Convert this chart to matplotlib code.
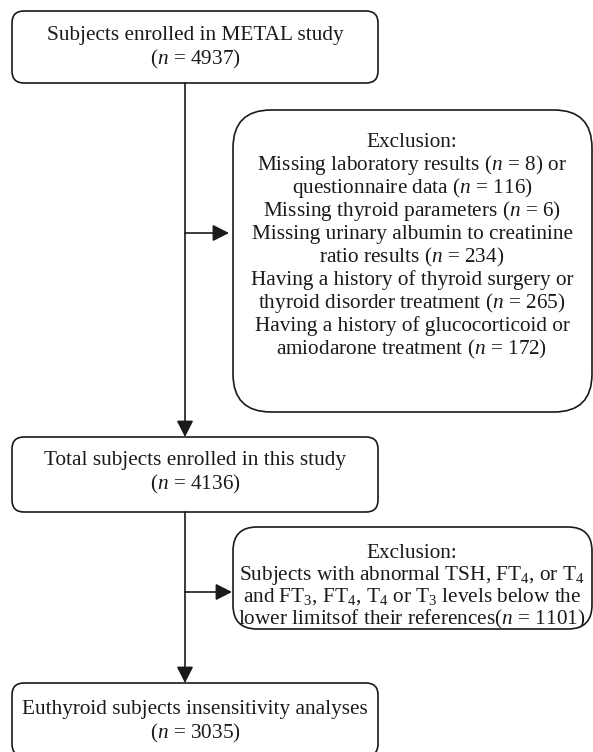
import matplotlib.pyplot as plt
from matplotlib.patches import FancyBboxPatch

plt.rcParams['font.family'] = ['Liberation Serif', 'DejaVu Serif']
plt.rcParams['mathtext.fontset'] = 'custom'
plt.rcParams['mathtext.rm'] = 'Liberation Serif'
plt.rcParams['mathtext.it'] = 'Liberation Serif:italic'

# main flow boxes (text) and counts
main_labels = ['Subjects enrolled in METAL study',
               'Total subjects enrolled in this study',
               'Euthyroid subjects insensitivity analyses']
main_counts = [4937, 4136, 3035]

# exclusion boxes
excl1_lines = ['Exclusion:',
               'Missing laboratory results ($n$ = 8) or',
               'questionnaire data ($n$ = 116)',
               'Missing thyroid parameters ($n$ = 6)',
               'Missing urinary albumin to creatinine',
               'ratio results ($n$ = 234)',
               'Having a history of thyroid surgery or',
               'thyroid disorder treatment ($n$ = 265)',
               'Having a history of glucocorticoid or',
               'amiodarone treatment ($n$ = 172)']
excl2_lines = ['Exclusion:',
               'Subjects with abnormal TSH, FT$_4$, or T$_4$',
               'and FT$_3$, FT$_4$, T$_4$ or T$_3$ levels below the',
               'lower limitsof their references($n$ = 1101)']

fig = plt.figure(figsize=(5.93, 7.52), dpi=100)
ax = fig.add_axes([0, 0, 1, 1])
ax.set_xlim(0, 593)
ax.set_ylim(752, 0)
ax.axis('off')

fs = 15.3
col = '#1a1a1a'


def box(x0, y0, x1, y1, r):
    p = FancyBboxPatch((x0, y0), x1 - x0, y1 - y0,
                       boxstyle='round,pad=0,rounding_size=%g' % r,
                       fc='white', ec=col, lw=1.2)
    ax.add_patch(p)


def lines(xc, y0, items, step):
    # y0 is the baseline of the first line
    for i, s in enumerate(items):
        ax.text(xc, y0 + i * step, s, ha='center', va='baseline',
                fontsize=fs, color=col)


# left column boxes
main_pos = [(12, 11, 378, 83, 40), (12, 437, 378, 512, 465), (12, 683, 378, 756, 714)]
for (x0, y0, x1, y1, ty), lab, n in zip(main_pos, main_labels, main_counts):
    box(x0, y0, x1, y1, 12)
    lines((x0 + x1) / 2, ty, [lab, '($n$ = %d)' % n], 24)

# exclusion boxes
box(233, 110, 592, 412, 38)
lines(412, 147, excl1_lines, 23)
box(233, 527, 592, 629, 24)
lines(412, 558, excl2_lines, 22)

# arrows
ap = dict(arrowstyle='-|>,head_length=0.55,head_width=0.28', color=col, lw=1.2,
          mutation_scale=18, shrinkA=0, shrinkB=0)
ax.annotate('', xy=(185, 437), xytext=(185, 83), arrowprops=ap)
ax.annotate('', xy=(185, 683), xytext=(185, 512), arrowprops=ap)
ax.annotate('', xy=(229, 233), xytext=(185, 233), arrowprops=ap)
ax.annotate('', xy=(232, 592), xytext=(185, 592), arrowprops=ap)

fig.savefig('out.png', dpi=100)
